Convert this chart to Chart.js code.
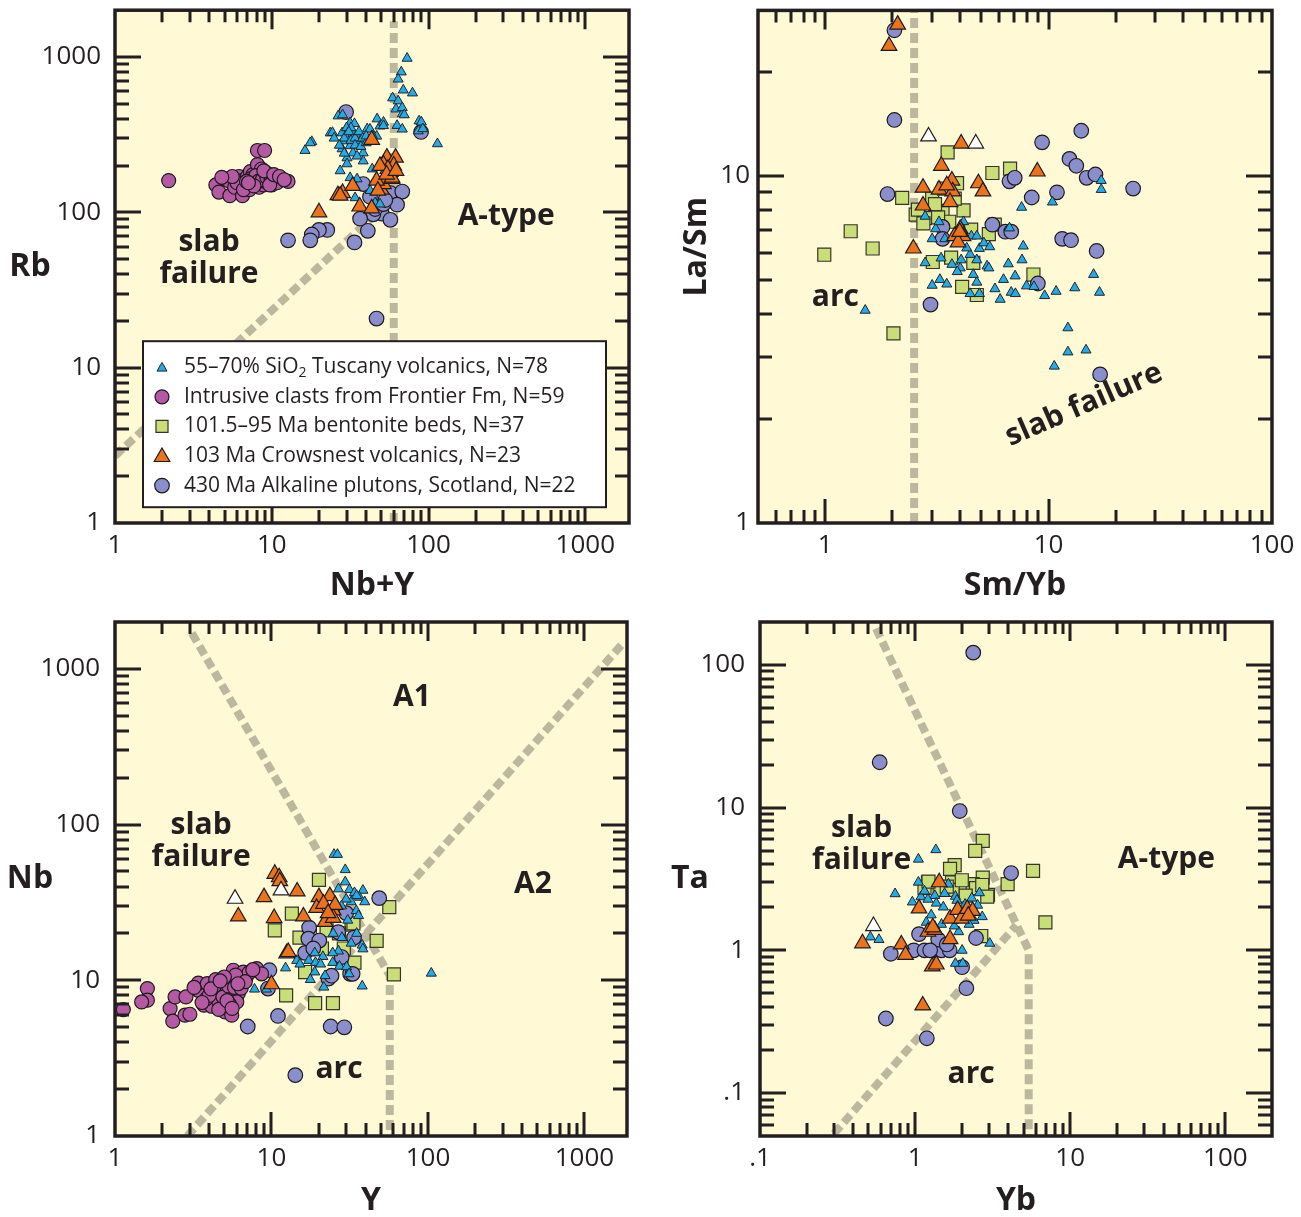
<!DOCTYPE html>
<html><head><meta charset="utf-8">
<script src="https://cdn.jsdelivr.net/npm/chart.js@4/dist/chart.umd.min.js"></script>
<style>
html,body{margin:0;padding:0;background:#fff;overflow:hidden;width:1301px;height:1217px;}
.p{position:absolute;}
canvas{display:block;}
</style></head>
<body>
<div class="p" style="left:0;top:0"><canvas id="c1" width="650" height="610" style="width:650px;height:610px"></canvas></div>
<div class="p" style="left:650px;top:0"><canvas id="c2" width="651" height="610" style="width:651px;height:610px"></canvas></div>
<div class="p" style="left:0;top:610px"><canvas id="c3" width="650" height="611" style="width:650px;height:611px"></canvas></div>
<div class="p" style="left:650px;top:610px"><canvas id="c4" width="651" height="611" style="width:651px;height:611px"></canvas></div>
<script>
// ---------------- DATA ----------------
const legendLabels = ['55\u201370% SiO\u2082 Tuscany volcanics, N=78','Intrusive clasts from Frontier Fm, N=59','101.5\u201395 Ma bentonite beds, N=37','103 Ma Crowsnest volcanics, N=23','430 Ma Alkaline plutons, Scotland, N=22'];

// Panel 1: Rb vs Nb+Y
const p1Tuscany = [[73,980],[67,800],[64,720],[69,612],[79,586],[59,545],[64,521],[62,462],[68,430],[87,387],[86,334],[114,276],
[90,381],[92,345],[68,471],[70,424],[63,362],[68,343],[26.5,417],[23.6,324],[31.6,376],[28.1,324],[30.2,311],[33,320],[35.5,311],[40.6,344],[47,399],[49,359],
[51.6,380],[51.6,361],[46.7,309],[42.3,343],[24.4,326],[18,285],[16.3,250],[28.3,424],[33.7,372],[44,311],[36.6,288],[28.5,288],[31.6,268],[28.1,256],[33,241],[38.3,241],[30.2,224],[38.3,214],
[17.6,280],[30.2,205],[27.3,185],[31.6,167],[35,164],[43.7,190],[34,124],[42.4,138],[45.6,115],[49,113],
[29,300],[32,290],[34,300],[36,330],[38,300],[30,350],[34,270],[37,265],[40,280],[27,270],[29,240],[32,350],[40,310],[35,230],[25,300],[31,330]];
const p1Frontier = [[2.2,160],[4.4,150],[4.6,135],[5.0,165],[5.3,160],[5.4,128],[5.8,145],[6.2,170],[6.5,128],[6.5,160],[6.8,150],[7.0,170],[7.2,140],[7.3,183],[7.5,160],[7.6,175],[7.8,150],[8.0,165],[8.1,203],[8.1,250],[8.3,145],[8.4,180],[8.5,160],[8.6,190],[8.8,170],[8.9,150],[9.0,250],[9.1,165],[9.2,180],[9.4,155],[9.5,175],[9.6,160],[9.8,170],[10.0,150],[10.2,165],[10.4,160],[10.6,170],[11.0,160],[11.5,165],[12.7,158],[6.0,155],[6.6,140],[7.4,165],[7.9,172],[8.2,158],[8.7,162],[9.3,168],[9.9,162],[10.8,155],[5.6,170],[6.9,158],[7.7,148],[8.9,185],[9.7,150],[10.3,175],[11.2,170],[12.0,162],[4.8,168],[7.1,155]];
const p1Crowsnest = [[20,100],[28.3,133],[26.4,129],[32.8,148],[36.4,109],[43.4,106],[50,140],[51.6,152],[46.6,160],[54.2,225],[61.6,225],[51.6,203],[57,182],[58.5,164],[43.4,293],[60,200],[55,190],[49,199],[58.5,167],[54,175],[47.5,138],[27.3,128],[62,185]];
const p1Scotland = [[29.8,442],[89.6,329],[38.3,152],[42.3,126],[57.1,133],[68,136],[63,112],[50.3,98],[44.4,97],[36.6,91],[57.1,89.5],[41,76],[33.7,64],[22.6,77],[20,77],[18,72],[17.6,66],[12.7,66],[46.6,20.7],[45.6,105],[51.6,113],[53,120]];
const p1Bound = [[[60,1],[60,1700]],[[1,2.7],[60,125]]];

// Panel 2: La/Sm vs Sm/Yb
const p2Tuscany = [[17.2,9.7],[17.2,9.14],[10.4,8.41],[7.57,8.12],[7.7,6.28],[7.6,5.73],[6.6,5.58],[7.08,5.15],[6.28,5.03],[5.75,4.73],[6.07,4.41],[6.8,4.62],[7.1,4.58],[7.96,4.82],[8.6,4.8],[9.6,4.52],[10.8,4.65],[13.1,4.76],[15.9,5.2],[16.9,4.62],[12.2,3.65],[12.2,3.11],[14.7,3.15],[10.6,2.83],[1.51,4.1],[2.8,5.62],[3.01,4.84],[3.26,5.03],[3.5,4.88],[4.45,4.58],[4.9,4.58],[4.77,4.94],[4.6,5.2],[5.3,5.5],[5.4,5.43],[4.77,5.73],[4.45,5.94],[4.06,5.73],[4.02,5.43],[3.69,5.56],[2.8,7.65],[3.12,7.04],[3.01,6.59],[3.43,6.59],[4.16,7.38],[4.51,6.71],[4.77,6.71],[4.9,6.18],[5.13,6.41],[5.45,6.25],[6.68,7.08],[3.23,7.38],[3.9,5.3],[3.3,5.8],[4.3,6.2]];
const p2Bentonite = [[3.53,11.7],[5.6,10.2],[6.72,10.5],[2.21,8.65],[3.89,9.53],[4.16,7.96],[2.54,7.74],[2.8,7.56],[3.01,8.61],[3.35,7.93],[3.59,7.38],[5.74,7.24],[5.4,6.8],[1.3,6.93],[1.63,6.18],[0.99,5.93],[3.03,5.65],[3.66,5.82],[4.6,5.62],[8.55,5.2],[4.1,4.79],[4.77,4.54],[2.02,3.52],[2.6,8.0],[3.2,7.6],[3.8,8.6],[2.75,7.3],[4.5,7.0],[3.4,9.2],[3.1,8.3]];
const p2Crowsnest = [[2.11,27.3],[1.93,23.7],[4.06,12.4],[3.31,10.7],[8.9,10.3],[2.74,9.25],[3.23,9.14],[3.69,9.7],[3.72,9.03],[4.85,9.53],[5.08,9.03],[3.62,8.41],[2.74,8.22],[4.02,7.04],[3.79,6.71],[4.14,6.71],[3.93,6.44],[2.48,6.18],[3.5,9.4],[4.0,6.9]];
const p2White = [[2.9,13.0],[4.72,12.4]];
const p2Scotland = [[2.04,26.3],[2.04,14.5],[1.9,8.87],[6.68,9.65],[7.05,9.88],[8.4,8.67],[9.35,12.5],[10.9,8.97],[12.4,11.2],[13.3,10.7],[14.0,13.5],[14.8,9.88],[16.2,10.1],[23.9,9.2],[5.6,7.24],[6.4,6.91],[6.8,6.91],[3.35,7.13],[3.35,6.59],[11.5,6.59],[12.6,6.53],[16.4,6.08],[8.95,4.9],[2.96,4.26],[17.0,2.68]];
const p2Bound = [[[2.5,1],[2.5,30]]];

// Panel 3: Nb vs Y
const p3Tuscany = [[25.1,64.3],[26.4,64.3],[29.6,51.3],[29.6,42.8],[26.8,38.6],[31.5,38.2],[38.4,37.8],[33.9,36.5],[36.5,34.1],[39.4,31.9],[32.3,31.9],[30.0,33.2],[34.8,28],[30.7,24.3],[24.8,25],[24.8,20],[28.2,18.8],[32.3,17.3],[38,16.8],[38.4,15.9],[26.8,15.4],[24.6,15.0],[21.3,14.2],[18.9,15.0],[14.5,13.4],[15.2,12.7],[17.3,13.4],[19.1,13.0],[20.6,12.7],[18.9,11.3],[17.7,10.1],[22,10.7],[24.6,13.0],[27.2,12.3],[30.2,12.2],[31.3,11.0],[12.3,12],[7.79,8.77],[9.29,8.77],[21.6,9.03],[38,9.18],[105,11.1],[35,35],[28,30],[35,20],[36,26]];
const p3Frontier = [[1.13,6.49],[1.61,8.85],[1.61,7.45],[1.48,7.26],[2.25,6.58],[2.34,5.46],[2.42,7.82],[2.84,7.82],[2.8,5.97],[3.01,6.05],[3.41,8.63],[3.41,9.6],[3.89,9.53],[3.7,6.92],[4.15,6.81],[4.57,8.54],[4.57,7.45],[5.05,6.92],[5.05,6.27],[5.57,5.97],[5.43,8.22],[5.57,10.26],[5.7,11.6],[6.14,8.22],[6.45,9.6],[6.6,11.3],[6.0,7.26],[8.04,11.9],[8.65,11.0],[4.8,9.53],[5.17,8.63],[3.85,7.63],[4.3,9.1],[4.0,8.0],[4.9,7.8],[5.3,9.2],[5.8,9.0],[6.2,10.0],[6.9,10.5],[7.2,11.2],[5.4,7.0],[4.6,6.5],[3.6,7.2],[3.2,9.0],[6.4,8.9],[5.9,10.8],[4.4,10.1],[6.8,9.8],[5.0,10.5],[7.6,11.7],[5.2,7.4],[4.1,8.8],[6.1,9.5],[5.6,6.6],[4.7,9.9]];
const p3Bentonite = [[20.1,44.2],[13.5,26.8],[10.5,20.9],[15.1,18.8],[32.5,22.8],[47,17.9],[56.6,29.5],[60.6,10.9],[12.4,8.0],[32.5,12.9],[17.6,19.9],[22.5,20.9],[33.4,23.2],[19,7.13],[24.7,7.13],[33.9,13.0],[16.4,11.3],[27,20],[29,16],[21,16]];
const p3Crowsnest = [[10.5,48.3],[11.2,45.9],[11.3,43.3],[8.96,34.2],[14.6,37.2],[6.14,25.7],[10.4,25.1],[20.1,34.2],[23.6,34.7],[19.4,29.2],[24.8,28.1],[16.0,25.7],[22.0,23.7],[24.8,25.2],[12.5,14.9],[12.8,15.2],[10.0,9.43],[21.5,31],[25.5,30.5],[23,27]];
const p3White = [[5.85,33.4],[11.5,37.8]];
const p3Scotland = [[48.8,33.7],[17.4,21.8],[17.2,18.5],[20.2,18.0],[16.4,15.0],[18.5,16.0],[26.7,20.4],[33.7,18.8],[28.1,14.1],[31.8,11.0],[23.1,10.26],[9.7,11.6],[9.5,8.85],[7.05,5.05],[11.0,5.9],[23.9,5.05],[29.2,4.99],[14.2,2.46],[24.2,10.7],[33,11.0],[30,27]];
const p3Bound = [[[3.1,1700],[57,10.7],[57,1]],[[2.9,1],[1750,1450]]];

// Panel 4: Ta vs Yb
const p4Tuscany = [[1.36,5.07],[1.05,4.35],[0.743,2.49],[0.515,1.24],[0.585,1.19],[1.05,3.0],[0.96,2.18],[1.09,2.37],[1.34,2.42],[1.64,2.91],[1.82,2.39],[1.21,2.28],[1.37,2.14],[1.52,2.01],[2.6,2.53],[2.32,2.32],[2.71,1.72],[2.4,1.62],[2.23,1.52],[1.91,1.35],[1.79,1.48],[1.48,1.52],[1.27,1.77],[1.18,1.57],[2.01,1.0],[3.03,1.12],[1.82,0.81],[2.03,0.81],[1.86,2.24],[2.53,2.07],[1.15,2.6],[1.55,2.5],[2.1,2.1]];
const p4Bentonite = [[2.73,5.85],[2.44,4.98],[1.8,3.96],[1.68,3.72],[5.76,3.61],[3.95,2.91],[6.92,1.57],[2.73,3.23],[2.95,2.45],[1.21,3.0],[1.15,2.73],[1.44,2.65],[1.73,2.99],[1.82,2.65],[2.12,2.73],[2.35,2.91],[2.47,2.73],[2.12,2.42],[2.67,1.26],[1.22,3.03],[2.71,2.87],[2.92,2.38],[1.6,2.8],[2.0,3.1]];
const p4Crowsnest = [[0.458,1.12],[0.815,1.1],[0.867,0.93],[1.29,0.771],[1.37,0.796],[1.12,0.411],[1.43,3.0],[1.06,1.97],[1.21,1.35],[1.34,1.39],[1.68,1.2],[1.68,1.67],[1.88,1.92],[1.99,1.67],[2.17,1.95],[2.35,1.89],[1.3,1.45],[2.2,1.75]];
const p4White = [[0.539,1.48]];
const p4Scotland = [[2.37,122],[0.591,20.8],[1.94,9.47],[4.16,3.48],[2.47,1.22],[2.01,0.762],[2.14,0.543],[0.648,0.333],[1.19,0.242],[0.697,0.946],[0.98,1.0],[1.15,1.0],[1.3,1.0],[1.48,1.0],[1.67,1.0],[1.06,1.3],[1.41,1.19],[1.25,1.0],[1.6,1.1]];
const p4Bound = [[[0.56,180],[5.4,1.0],[5.4,0.05]],[[0.3,0.052],[4.5,1.5]]];

// Ticks
const decTicks = [1,10,100,1000];
const decLabels = ['1','10','100','1000'];
const p2xTicks = [1,10,100], p2xLabels = ['1','10','100'];
const p2yTicks = [1,10], p2yLabels = ['1','10'];
const p4Ticks = [0.1,1,10,100], p4Labels = ['.1','1','10','100'];

// ---------------- STYLE ----------------
const INK = '#231f20', BG = '#fff9d6', DASH = '#bdb79e';
const FONT = "'Open Sans', 'DejaVu Sans', sans-serif";
Chart.defaults.font.family = FONT;
const STY = {
  tuscany:  {pointStyle:'triangle', pointRadius:5.8, pointBackgroundColor:'#2aa9e0', pointBorderColor:'#1d2630', pointBorderWidth:1, order:2},
  frontier: {pointStyle:'circle', pointRadius:7, pointBackgroundColor:'#b45aa2', pointBorderColor:'#1f1a1e', pointBorderWidth:1.2, order:3},
  bentonite:{pointStyle:'rect', pointRadius:9.2, pointBackgroundColor:'#c9dd78', pointBorderColor:'#35352a', pointBorderWidth:1.2, order:5},
  crowsnest:{pointStyle:'triangle', pointRadius:9, pointBackgroundColor:'#e9731f', pointBorderColor:'#1f1a1e', pointBorderWidth:1.2, order:1},
  scotland: {pointStyle:'circle', pointRadius:7.3, pointBackgroundColor:'#8a8fcb', pointBorderColor:'#1f1a1e', pointBorderWidth:1.2, order:4},
  white:    {pointStyle:'triangle', pointRadius:9, pointBackgroundColor:'#ffffff', pointBorderColor:'#1f1a1e', pointBorderWidth:1.2, order:0}
};
const LEG_KEYS = ['tuscany','frontier','bentonite','crowsnest','scotland'];

function pts(a){ return a.map(p => ({x:p[0], y:p[1]})); }
function sc(arr, key){ return Object.assign({type:'scatter', data:pts(arr), pointHoverRadius:0}, STY[key]); }
function bound(arr){ return {type:'line', data:pts(arr), borderColor:DASH, borderWidth:8, borderDash:[10,5], borderCapStyle:'butt', pointRadius:0, fill:false, tension:0, order:10}; }

function logVals(min, max){
  const out = [];
  for (let k = Math.floor(Math.log10(min)) - 1; k <= Math.ceil(Math.log10(max)); k++)
    for (let m = 1; m <= 9; m++) {
      const v = m * Math.pow(10, k);
      if (v > min * 1.001 && v < max * 0.999) out.push({v, major: m === 1});
    }
  return out;
}

function drawMarker(ctx, key, x, y, r){
  const s = STY[key];
  ctx.fillStyle = s.pointBackgroundColor; ctx.strokeStyle = s.pointBorderColor; ctx.lineWidth = s.pointBorderWidth;
  Chart.helpers.drawPoint(ctx, {pointStyle:s.pointStyle, radius:r, rotation:0, borderWidth:s.pointBorderWidth}, x, y);
}

const framePlugin = {
  id:'frame',
  beforeDraw(chart){
    const {ctx, chartArea:a} = chart;
    ctx.save(); ctx.fillStyle = BG; ctx.fillRect(a.left, a.top, a.width, a.height); ctx.restore();
  },
  afterDatasetsDraw(chart, args, o){
    const {ctx, chartArea:a, scales:{x:xs, y:ys}} = chart;
    ctx.save();
    ctx.strokeStyle = INK; ctx.lineWidth = 3; ctx.lineCap = 'butt';
    ctx.beginPath();
    for (const t of logVals(xs.min, xs.max)) {
      const px = Math.round(xs.getPixelForValue(t.v));
      const L = t.major ? 24 : 13, LT = t.major ? 19 : 12;
      ctx.moveTo(px, a.bottom); ctx.lineTo(px, a.bottom - L);
      ctx.moveTo(px, a.top); ctx.lineTo(px, a.top + LT);
    }
    for (const t of logVals(ys.min, ys.max)) {
      const py = Math.round(ys.getPixelForValue(t.v));
      const L = t.major ? 26 : 14;
      ctx.moveTo(a.left, py); ctx.lineTo(a.left + L, py);
      ctx.moveTo(a.right, py); ctx.lineTo(a.right - L, py);
    }
    ctx.stroke();
    ctx.lineWidth = 3.5;
    ctx.strokeRect(a.left, a.top, a.width, a.height);
    ctx.fillStyle = INK; ctx.textAlign = 'center'; ctx.textBaseline = 'middle';
    for (const t of (o.texts || [])) {
      ctx.save();
      ctx.translate(xs.getPixelForValue(t.x), ys.getPixelForValue(t.y));
      if (t.rot) ctx.rotate(t.rot * Math.PI / 180);
      ctx.font = "bold 30px " + FONT;
      ctx.fillText(t.t, 0, 0);
      ctx.restore();
    }
    if (o.yTitle) {
      ctx.save();
      ctx.translate(a.left + o.yTitle.dx, (a.top + a.bottom) / 2 + (o.yTitle.dy || 0));
      if (o.yTitle.rot) ctx.rotate(o.yTitle.rot * Math.PI / 180);
      ctx.font = "bold 32px " + FONT;
      ctx.fillText(o.yTitle.t, 0, 0);
      ctx.restore();
    }
    if (o.legend) {
      const L = a.left + 28, T = a.top + 331, W = 463, H = 166;
      ctx.fillStyle = '#ffffff'; ctx.fillRect(L, T, W, H);
      ctx.strokeStyle = INK; ctx.lineWidth = 2; ctx.strokeRect(L, T, W, H);
      const radii = [5.8, 7, 8.5, 9, 7.3];
      legendLabels.forEach((lab, i) => {
        const cy = T + 26 + i * 29.6;
        drawMarker(ctx, LEG_KEYS[i], L + 19, cy + (STY[LEG_KEYS[i]].pointStyle === 'triangle' ? 1 : 0), radii[i]);
        ctx.fillStyle = INK; ctx.textAlign = 'left'; ctx.textBaseline = 'middle';
        ctx.font = "21px " + FONT;
        const sub = lab.indexOf('\u2082');
        if (sub >= 0) {
          const a1 = lab.slice(0, sub), a2 = lab.slice(sub + 1);
          let x = L + 41;
          ctx.fillText(a1, x, cy); x += ctx.measureText(a1).width;
          ctx.font = "14px " + FONT; ctx.fillText('2', x, cy + 6); x += ctx.measureText('2').width;
          ctx.font = "21px " + FONT; ctx.fillText(a2, x, cy);
        } else {
          ctx.fillText(lab, L + 41, cy);
        }
      });
    }
    ctx.restore();
  }
};

function makeChart(id, c){
  const tickFont = {family:FONT, size:26};
  return new Chart(document.getElementById(id), {
    type:'scatter',
    data:{datasets:c.datasets},
    options:{
      responsive:false, animation:false, events:[], devicePixelRatio:1,
      layout:{padding:c.padding},
      plugins:{legend:{display:false}, tooltip:{enabled:false}, frame:c.frame},
      scales:{
        x:{type:'logarithmic', position:'bottom', min:c.xMin, max:c.xMax, bounds:'data',
           grid:{display:false, drawTicks:false}, border:{display:false},
           ticks:{autoSkip:false, maxRotation:0, minRotation:0, padding:7, font:tickFont, color:INK, callback:(v,i)=>c.xLabels[i]},
           afterBuildTicks:s=>{ s.ticks = c.xTicks.map(v=>({value:v})); },
           afterFit:s=>{ s.height = c.xH; s.paddingLeft = 0; s.paddingRight = 0; },
           title:{display:true, text:c.xTitle, color:INK, font:{family:FONT, size:32, weight:'bold'}, padding:{top:0, bottom:c.xTitlePad}}},
        y:{type:'logarithmic', position:'left', min:c.yMin, max:c.yMax, bounds:'data',
           grid:{display:false, drawTicks:false}, border:{display:false},
           ticks:{autoSkip:false, padding:c.yPad, font:tickFont, color:INK, callback:(v,i)=>c.yLabels[i]},
           afterBuildTicks:s=>{ s.ticks = c.yTicks.map(v=>({value:v})); },
           afterFit:s=>{ s.width = c.yW; s.paddingTop = 0; s.paddingBottom = 0; }}
      }
    },
    plugins:[framePlugin]
  });
}

makeChart('c1', {
  datasets:[...p1Bound.map(bound), sc(p1Scotland,'scotland'), sc(p1Frontier,'frontier'), sc(p1Tuscany,'tuscany'), sc(p1Crowsnest,'crowsnest')],
  padding:{left:0, top:8, right:21, bottom:0}, xMin:1, xMax:1900, yMin:1, yMax:2000,
  xTicks:decTicks, xLabels:decLabels, yTicks:decTicks, yLabels:decLabels,
  xH:87, yW:115, yPad:14, xTitle:'Nb+Y', xTitlePad:5,
  frame:{legend:true, yTitle:{t:'Rb', dx:-85},
    texts:[{t:'slab', x:3.98, y:63.8},{t:'failure', x:3.98, y:39.7},{t:'A-type', x:313, y:93.7}]}
});
makeChart('c2', {
  datasets:[...p2Bound.map(bound), sc(p2Bentonite,'bentonite'), sc(p2Scotland,'scotland'), sc(p2Tuscany,'tuscany'), sc(p2Crowsnest,'crowsnest'), sc(p2White,'white')],
  padding:{left:0, top:8, right:29, bottom:0}, xMin:0.5, xMax:100, yMin:1, yMax:30,
  xTicks:p2xTicks, xLabels:p2xLabels, yTicks:p2yTicks, yLabels:p2yLabels,
  xH:87, yW:108, yPad:8, xTitle:'Sm/Yb', xTitlePad:5,
  frame:{yTitle:{t:'La/Sm', dx:-61, dy:-20, rot:-90},
    texts:[{t:'arc', x:1.11, y:4.48},{t:'slab failure', x:14.4, y:2.19, rot:-23.5}]}
});
makeChart('c3', {
  datasets:[...p3Bound.map(bound), sc(p3Bentonite,'bentonite'), sc(p3Scotland,'scotland'), sc(p3Frontier,'frontier'), sc(p3Tuscany,'tuscany'), sc(p3Crowsnest,'crowsnest'), sc(p3White,'white')],
  padding:{left:0, top:12, right:23, bottom:0}, xMin:1, xMax:1870, yMin:1, yMax:2000,
  xTicks:decTicks, xLabels:decLabels, yTicks:decTicks, yLabels:decLabels,
  xH:85, yW:115, yPad:15, xTitle:'Y', xTitlePad:1,
  frame:{yTitle:{t:'Nb', dx:-85},
    texts:[{t:'A1', x:79, y:652},{t:'slab', x:3.55, y:98.6},{t:'failure', x:3.55, y:61.4},{t:'A2', x:469, y:41.2},{t:'arc', x:27, y:2.69}]}
});
makeChart('c4', {
  datasets:[...p4Bound.map(bound), sc(p4Bentonite,'bentonite'), sc(p4Scotland,'scotland'), sc(p4Tuscany,'tuscany'), sc(p4Crowsnest,'crowsnest'), sc(p4White,'white')],
  padding:{left:0, top:12, right:29, bottom:0}, xMin:0.1, xMax:200, yMin:0.05, yMax:200,
  xTicks:p4Ticks, xLabels:p4Labels, yTicks:p4Ticks, yLabels:p4Labels,
  xH:85, yW:110, yPad:15, xTitle:'Yb', xTitlePad:1,
  frame:{yTitle:{t:'Ta', dx:-70},
    texts:[{t:'slab', x:0.452, y:7.19},{t:'failure', x:0.452, y:4.3},{t:'A-type', x:41.7, y:4.36},{t:'arc', x:2.3, y:0.134}]}
});
</script>
</body></html>
